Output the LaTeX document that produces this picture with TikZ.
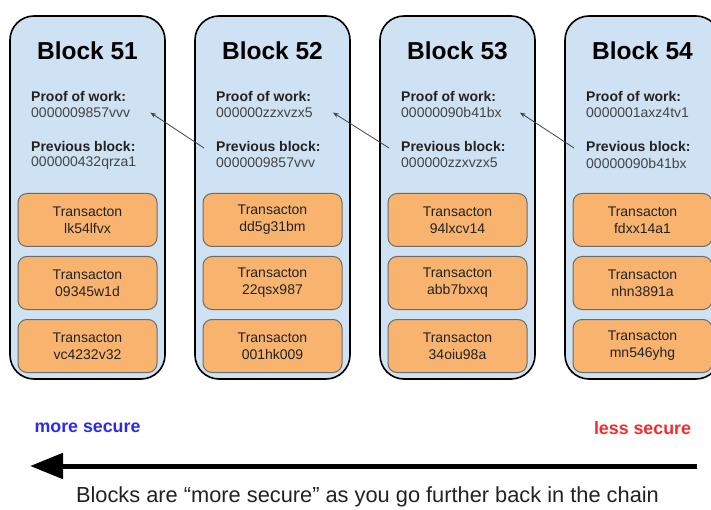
\documentclass[tikz,border=0pt]{standalone}
\usepackage{fontspec}
\setmainfont{Liberation Sans}
\usetikzlibrary{arrows.meta}
\definecolor{blockfill}{HTML}{CFE2F3}
\definecolor{txfill}{HTML}{F8B46F}
\definecolor{txborder}{HTML}{6B6B6B}
\definecolor{labelcol}{HTML}{222222}
\definecolor{hashcol}{HTML}{444444}
\definecolor{moreblue}{HTML}{2B2BF0}
\definecolor{lessred}{HTML}{F52A2A}
\tikzset{
  blockbox/.style={draw=black, line width=1.6pt, fill=blockfill, rounded corners=24pt},
  txbox/.style={draw=txborder, line width=1pt, fill=txfill, rounded corners=9pt, minimum width=139pt, minimum height=53pt, inner sep=0pt, anchor=north west},
  txtext/.style={text=labelcol, align=center, font=\fontsize{14}{17}\selectfont, inner sep=0pt},
  title/.style={font=\fontsize{24.5}{28}\selectfont\bfseries, inner sep=0pt},
  lbl/.style={anchor=west, inner sep=0pt, text=labelcol, font=\fontsize{14}{16}\selectfont\bfseries},
  hash/.style={anchor=west, inner sep=0pt, text=hashcol, font=\fontsize{14}{16}\selectfont},
  linkarrow/.style={draw=hashcol, line width=0.8pt, -{Stealth[length=6pt,width=4.5pt]}},
}
\begin{document}
\begin{tikzpicture}[x=1pt,y=-1pt]
\useasboundingbox (0,0) rectangle (711,510);
\foreach \L/\n/\pow/\prev/\ta/\tb/\tc in {
  10/51/0000009857vvv/000000432qrza1/lk54lfvx/09345w1d/vc4232v32,
  195/52/000000zzxvzx5/0000009857vvv/dd5g31bm/22qsx987/001hk009,
  380/53/00000090b41bx/000000zzxvzx5/94lxcv14/abb7bxxq/34oiu98a,
  565/54/0000001axz4tv1/00000090b41bx/fdxx14a1/nhn3891a/mn546yhg}{
  \draw[blockbox] (\L,16) rectangle ++(155,363);
  \node[title] (t\n) at (\L+77.5,51) {Block \n};
  \node[lbl] (pw\n) at (\L+21,96) {Proof of work:};
  \node[hash] (h\n) at (\L+21,112.5) {\pow};
  \node[lbl] (pl\n) at (\L+21,146) {Previous block:};
  \node[hash] (p\n) at (\L+21,163) {\prev};
  \node[txbox] (ta\n) at (\L+7.5,193) {};
  \node[txtext] at (ta\n.center) {Transacton\\\ta};
  \node[txbox] (tb\n) at (\L+7.5,256) {};
  \node[txtext] at (tb\n.center) {Transacton\\\tb};
  \node[txbox] (tc\n) at (\L+7.5,319) {};
  \node[txtext] at (tc\n.center) {Transacton\\\tc};
}
\draw[linkarrow] ([xshift=-12pt,yshift=-2pt]pl52.west) -- ([xshift=20pt]h51.east);
\draw[linkarrow] ([xshift=-12pt,yshift=-2pt]pl53.west) -- ([xshift=20pt]h52.east);
\draw[linkarrow] ([xshift=-12pt,yshift=-2pt]pl54.west) -- ([xshift=18pt]h53.east);
\node[font=\fontsize{17.8}{20}\selectfont\bfseries, text=moreblue, inner sep=0pt] (more) at (87.5,428) {more secure};
\node[font=\fontsize{17.8}{20}\selectfont\bfseries, text=lessred, inner sep=0pt] (less) at (642.5,428) {less secure};
\coordinate (arrR) at (697,466);
\coordinate (arrL) at (30,466);
\draw[line width=5pt, -{Triangle[length=33pt,width=25pt]}] (arrR) -- (arrL);
\node[font=\fontsize{21.8}{24}\selectfont, text=labelcol, inner sep=0pt] (cap) at (367.5,497) {Blocks are “more secure” as you go further back in the chain};
\end{tikzpicture}
\end{document}
